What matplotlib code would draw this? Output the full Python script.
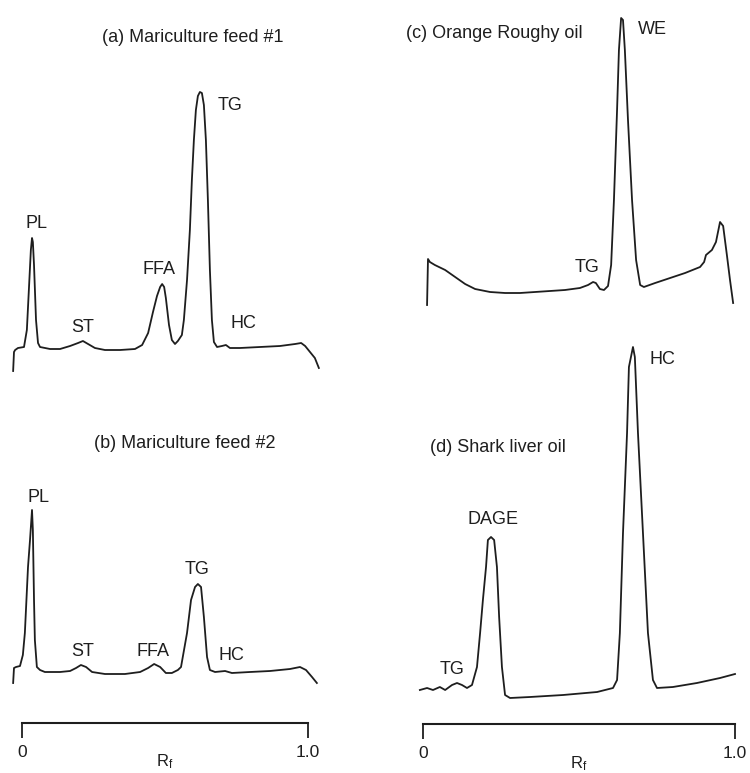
import numpy as np
import matplotlib
matplotlib.use("Agg")
import matplotlib.pyplot as plt

plt.rcParams['font.family'] = ['Liberation Sans', 'DejaVu Sans']

# (a) Mariculture feed #1 : Rf, detector response
rf_a = [-0.031, -0.028, -0.024, -0.014, 0.007, 0.017, 0.024, 0.031, 0.035, 0.038,
        0.042, 0.049, 0.056, 0.063, 0.098, 0.133, 0.168, 0.196, 0.213, 0.231,
        0.255, 0.290, 0.343, 0.395, 0.420, 0.441, 0.458, 0.472, 0.483, 0.490,
        0.497, 0.503, 0.514, 0.524, 0.535, 0.545, 0.559, 0.566, 0.577, 0.587,
        0.594, 0.601, 0.608, 0.615, 0.622, 0.629, 0.636, 0.643, 0.650, 0.657,
        0.664, 0.671, 0.682, 0.699, 0.713, 0.727, 0.762, 0.832, 0.902, 0.955,
        0.976, 0.990, 1.007, 1.024, 1.038]
resp_a = [0.9, 2.8, 3.0, 3.2, 3.3, 5.0, 9.0, 13.0, 14.2, 13.8,
          11.5, 6.0, 3.7, 3.3, 3.1, 3.1, 3.4, 3.7, 3.9, 3.6,
          3.2, 3.0, 3.0, 3.1, 3.5, 4.7, 6.8, 8.4, 9.3, 9.6,
          9.3, 8.2, 5.5, 4.0, 3.6, 3.9, 4.5, 6.0, 10.0, 15.0,
          20.0, 24.0, 27.0, 28.4, 28.8, 28.7, 27.5, 24.0, 18.0, 11.0,
          6.0, 3.8, 3.3, 3.4, 3.5, 3.2, 3.2, 3.3, 3.4, 3.6,
          3.7, 3.4, 2.8, 2.2, 1.2]

# (b) Mariculture feed #2
rf_b = [-0.031, -0.028, -0.021, -0.007, 0.003, 0.010, 0.021, 0.028, 0.035, 0.038,
        0.042, 0.045, 0.052, 0.063, 0.080, 0.133, 0.168, 0.189, 0.206, 0.224,
        0.245, 0.290, 0.360, 0.413, 0.441, 0.462, 0.483, 0.503, 0.524, 0.545,
        0.556, 0.577, 0.591, 0.605, 0.615, 0.626, 0.636, 0.647, 0.657, 0.675,
        0.710, 0.734, 0.797, 0.867, 0.937, 0.972, 0.993, 1.014, 1.031]
resp_b = [4.0, 5.5, 5.6, 5.7, 6.8, 9.0, 15.6, 18.3, 21.3, 19.3,
          12.3, 8.3, 5.6, 5.3, 5.1, 5.1, 5.2, 5.5, 5.8, 5.6,
          5.1, 4.9, 4.9, 5.1, 5.5, 5.9, 5.6, 5.0, 5.0, 5.3,
          5.6, 9.0, 12.3, 13.6, 13.9, 13.6, 10.6, 6.6, 5.3, 5.1,
          5.2, 5.0, 5.1, 5.2, 5.4, 5.6, 5.3, 4.6, 4.0]

# (c) Orange Roughy oil
rf_c = [0.013, 0.016, 0.022, 0.038, 0.071, 0.103, 0.135, 0.167, 0.215, 0.263,
        0.311, 0.359, 0.407, 0.455, 0.503, 0.529, 0.545, 0.554, 0.567, 0.580,
        0.593, 0.603, 0.612, 0.622, 0.628, 0.635, 0.641, 0.647, 0.657, 0.670,
        0.683, 0.696, 0.708, 0.744, 0.792, 0.840, 0.888, 0.901, 0.907, 0.926,
        0.939, 0.952, 0.962, 0.974, 0.984, 0.994]
resp_c = [0.5, 5.1, 4.8, 4.5, 4.0, 3.3, 2.6, 2.1, 1.8, 1.7,
          1.7, 1.8, 1.9, 2.0, 2.2, 2.5, 2.8, 2.7, 2.1, 2.0,
          2.4, 4.5, 11.0, 20.0, 26.0, 29.2, 29.0, 26.0, 19.0, 11.0,
          5.0, 2.5, 2.3, 2.7, 3.2, 3.7, 4.3, 4.8, 5.5, 6.0,
          6.8, 8.8, 8.4, 5.5, 3.0, 0.7]

# (d) Shark liver oil
rf_d = [-0.010, 0.013, 0.032, 0.054, 0.071, 0.093, 0.109, 0.125, 0.141, 0.157,
        0.173, 0.183, 0.192, 0.202, 0.208, 0.218, 0.228, 0.237, 0.244, 0.253,
        0.263, 0.279, 0.343, 0.449, 0.558, 0.609, 0.622, 0.631, 0.641, 0.654,
        0.660, 0.673, 0.679, 0.689, 0.705, 0.721, 0.737, 0.750, 0.801, 0.878,
        0.952, 1.000]
resp_d = [3.4, 3.6, 3.4, 3.7, 3.4, 3.9, 4.1, 3.9, 3.6, 3.9,
          5.7, 9.1, 12.4, 15.7, 18.4, 18.7, 18.4, 15.7, 10.7, 5.7,
          2.9, 2.6, 2.7, 2.9, 3.2, 3.6, 4.4, 9.1, 19.1, 29.1,
          35.7, 37.7, 36.7, 29.1, 19.1, 9.1, 4.4, 3.6, 3.7, 4.1,
          4.6, 5.0]

# peak labels: name, Rf, response
labels_a = [("PL", 0.049, 15.6), ("ST", 0.213, 5.2), ("FFA", 0.479, 11.0),
            ("TG", 0.727, 27.4), ("HC", 0.773, 5.6)]
labels_b = [("PL", 0.059, 22.5), ("ST", 0.213, 7.2), ("FFA", 0.458, 7.2),
            ("TG", 0.612, 15.3), ("HC", 0.734, 6.7)]
labels_c = [("TG", 0.526, 4.2), ("WE", 0.734, 28.0)]
labels_d = [("TG", 0.093, 5.4), ("DAGE", 0.224, 20.4), ("HC", 0.766, 36.4)]

W, H = 750, 773
fig = plt.figure(figsize=(W / 100, H / 100), dpi=100)


def add_panel(left, right, top, bottom):
    return fig.add_axes([left / W, 1 - bottom / H, (right - left) / W, (bottom - top) / H])


ax_a = add_panel(22, 308, 80, 380)
ax_b = add_panel(22, 308, 423, 723)
ax_c = add_panel(423, 735, 10, 310)
ax_d = add_panel(423, 735, 324, 724)

ink = '#1e1e1e'
fs = 13
line_kw = dict(color=ink, lw=1.3, clip_on=False)
txt_kw = dict(fontsize=fs, ha='center', va='center', color=ink)

panels = [
    (ax_a, rf_a, resp_a, labels_a, 30),
    (ax_b, rf_b, resp_b, labels_b, 30),
    (ax_c, rf_c, resp_c, labels_c, 30),
    (ax_d, rf_d, resp_d, labels_d, 40),
]
for ax, rf, resp, labs, ytop in panels:
    ax.plot(rf, resp, **line_kw)
    for name, x, y in labs:
        ax.text(x, y, name, **txt_kw)
    ax.set_xlim(0, 1)
    ax.set_ylim(0, ytop)
    ax.patch.set_alpha(0)
    for s in ax.spines.values():
        s.set_visible(False)
    ax.set_yticks([])

ax_a.text(0.598, 34.2, "(a) Mariculture feed #1", clip_on=False, **txt_kw)
ax_b.text(0.570, 28.0, "(b) Mariculture feed #2", clip_on=False, **txt_kw)
ax_c.text(-0.055, 27.7, "(c) Orange Roughy oil", clip_on=False,
          fontsize=fs, ha='left', va='center', color=ink)
ax_d.text(0.022, 27.7, "(d) Shark liver oil", clip_on=False,
          fontsize=fs, ha='left', va='center', color=ink)

for ax in (ax_a, ax_c):
    ax.set_xticks([])

# Rf scale bars under the lower panels
for ax, lab_y in ((ax_b, -0.098), (ax_d, -0.075)):
    ax.spines['bottom'].set_visible(True)
    ax.spines['bottom'].set_linewidth(1.5)
    ax.spines['bottom'].set_color(ink)
    ax.set_xticks([0, 1])
    ax.set_xticklabels(['0', '1.0'])
    ax.tick_params(axis='x', direction='out', length=11, width=1.3,
                   pad=5, labelsize=12.5, colors=ink)
    ax.set_xlabel(r'$\mathregular{R_f}$', fontsize=12, color=ink)
    ax.xaxis.set_label_coords(0.5, lab_y)

plt.savefig("out.png", dpi=100, facecolor='w')
